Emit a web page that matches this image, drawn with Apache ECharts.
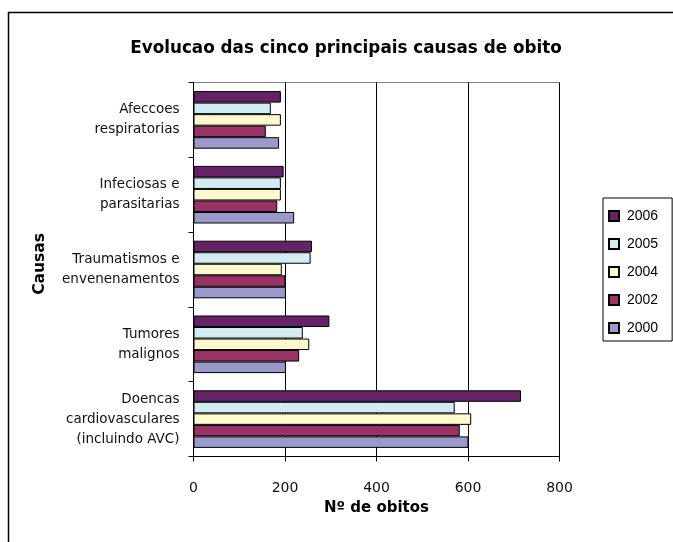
<!DOCTYPE html>
<html>
<head>
<meta charset="utf-8">
<script src="https://cdn.jsdelivr.net/npm/echarts@6/dist/echarts.min.js"></script>
<style>html,body{margin:0;padding:0;background:#fff}#c{width:673px;height:542px}</style>
</head>
<body>
<div id="c"></div>
<script>
// Categories listed bottom to top (category axis starts at bottom)
var categories = [
  "Doencas\ncardiovasculares\n(incluindo AVC)",
  "Tumores\nmalignos",
  "Traumatismos e\nenvenenamentos",
  "Infeciosas e\nparasitarias",
  "Afeccoes\nrespiratorias"
];
// Series order: first series is drawn at the top of each group
var years = ["2006", "2005", "2004", "2002", "2000"];
var v2006 = [716, 297, 259, 197, 191];
var v2005 = [571, 239, 256, 191, 169];
var v2004 = [607, 253, 193, 191, 191];
var v2002 = [582, 231, 201, 183, 158];
var v2000 = [601, 202, 202, 220, 187];
var xTicks = [0, 200, 400, 600, 800];

var colors = {"2000": "#9999CC", "2002": "#993366", "2004": "#FFFACD", "2005": "#D3ECF3", "2006": "#662266"};
var dataByYear = {"2000": v2000, "2002": v2002, "2004": v2004, "2005": v2005, "2006": v2006};

var chart = echarts.init(document.getElementById('c'), null, {renderer: 'canvas'});
var series = years.map(function (y) {
  return {
    name: y, type: 'bar', data: dataByYear[y],
    barGap: '0%', barCategoryGap: '23%',
    itemStyle: {color: colors[y], borderColor: '#000', borderWidth: 1},
    emphasis: {disabled: true}
  };
});
chart.setOption({
  animation: false,
  backgroundColor: '#fff',
  title: {
    text: 'Evolucao das cinco principais causas de obito',
    left: 341, top: 35, textAlign: 'center',
    textStyle: {fontFamily: 'DejaVu Sans', fontSize: 16.8, fontWeight: 'bold', color: '#000'}
  },
  graphic: [{
    type: 'rect', shape: {x: 8.5, y: 12.5, width: 700, height: 600},
    style: {fill: 'none', stroke: '#000', lineWidth: 1.5}, silent: true, z: 100
  }, {
    type: 'text', left: 32, top: 233, rotation: Math.PI / 2,
    style: {text: 'Causas', font: 'bold 15.5px DejaVu Sans', fill: '#000'}
  }],
  legend: {
    data: years,
    orient: 'vertical', left: 603, top: 198,
    itemWidth: 10, itemHeight: 10, itemGap: 14, padding: [11, 14, 6, 5],
    borderColor: '#000', borderWidth: 1, backgroundColor: '#fff',
    textStyle: {fontFamily: 'Liberation Sans, Arial', fontSize: 14, color: '#000', padding: [0, 0, 0, 3]},
    icon: 'rect'
  },
  grid: {left: 193.5, top: 82.5, width: 366, height: 374, show: true, borderColor: '#808080', borderWidth: 1, backgroundColor: 'transparent'},
  xAxis: {
    type: 'value', min: xTicks[0], max: xTicks[xTicks.length - 1], interval: 200,
    name: 'Nº de obitos', nameLocation: 'middle', nameGap: 40,
    nameTextStyle: {fontFamily: 'DejaVu Sans', fontSize: 15, fontWeight: 'bold', color: '#000'},
    axisLine: {show: true, lineStyle: {color: '#000'}},
    axisTick: {show: true, length: 5, inside: false, lineStyle: {color: '#000'}},
    axisLabel: {margin: 25, fontFamily: 'DejaVu Sans', fontSize: 14, color: '#111'},
    splitLine: {show: true, lineStyle: {color: '#000', width: 1}}
  },
  yAxis: {
    type: 'category', data: categories,
    axisLine: {show: true, lineStyle: {color: '#000'}},
    axisTick: {show: true, length: 5, lineStyle: {color: '#000'}},
    axisLabel: {margin: 14, align: 'right', fontFamily: 'DejaVu Sans', fontSize: 13.5, color: '#111', lineHeight: 20},
    splitLine: {show: false}
  },
  series: series
});
</script>
</body>
</html>
